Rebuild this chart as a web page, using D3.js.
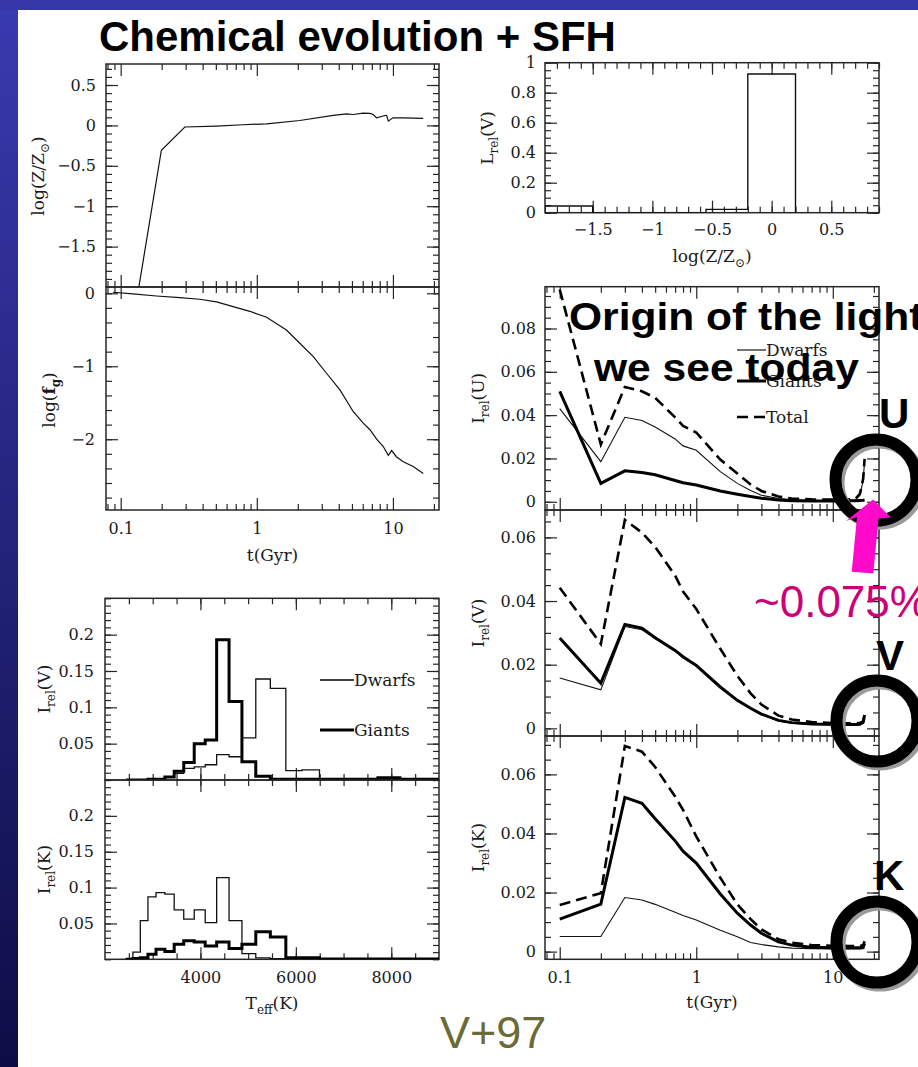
<!DOCTYPE html>
<html>
<head>
<meta charset="utf-8">
<title>Chemical evolution + SFH</title>
<script src="https://cdn.jsdelivr.net/npm/d3@7/dist/d3.min.js"></script>
<style>
  html, body { margin: 0; padding: 0; background: #fff; }
  svg { display: block; }
  .tick text { font-family: "DejaVu Serif", serif; font-size: 16px; fill: #1a1a1a; }
  .lbl { font-family: "DejaVu Serif", serif; font-size: 17px; fill: #1a1a1a; }
  .slide { font-family: "Liberation Sans", Arial, Helvetica, sans-serif; }
</style>
</head>
<body>
<svg id="fig" width="918" height="1067"></svg>
<script>
// ---------------- data ----------------
// age axis (Gyr), shared by every time panel
const ageTickMajor = [0.1, 1, 10];
const ageTickMinor = [0.08, 0.09, 0.2, 0.3, 0.4, 0.5, 0.6, 0.7, 0.8, 0.9, 2, 3, 4, 5, 6, 7, 8, 9, 20];
const ageTickLabels = ["0.1", "1", "10"];

// metallicity history log(Z/Zsun) vs t
const metalAge  = [0.136, 0.199, 0.296, 0.506, 0.79, 1.18, 2.07, 3.64, 4.57, 5.1, 6.05, 6.78, 7.16, 7.59, 8.73, 8.99, 9.25, 10.0, 11.9, 16.7];
const metalLogZ = [-2.0, -0.307, -0.02, -0.008, 0.008, 0.02, 0.061, 0.123, 0.143, 0.135, 0.152, 0.148, 0.135, 0.094, 0.123, 0.125, 0.053, 0.094, 0.094, 0.086];

// gas fraction log(f_g) vs t
const gasAge     = [0.0878, 0.123, 0.183, 0.272, 0.381, 0.506, 0.67, 0.889, 1.18, 1.65, 2.07, 2.6, 3.25, 4.08, 5.1, 6.05, 6.78, 7.59, 8.49, 9.25, 9.78, 10.6, 11.9, 14.1, 16.7];
const gasLogFrac = [0.014, -0.009, -0.037, -0.06, -0.082, -0.119, -0.183, -0.247, -0.329, -0.503, -0.685, -0.868, -1.096, -1.325, -1.62, -1.78, -1.87, -2.0, -2.1, -2.22, -2.156, -2.24, -2.31, -2.375, -2.47];

// V-band light by metallicity bin
const zBinEdges = [-1.9, -1.5, -0.55, -0.2, 0.2];
const zBinLight = [0.045, 0.0, 0.022, 0.925];

// Teff bins (K) and relative light of dwarfs / giants
const teffEdges = [2440, 2585, 2740, 2900, 3070, 3255, 3450, 3650, 3870, 4100, 4340, 4600, 4870, 5160, 5465, 5790, 6130, 6495, 6880, 7290, 7720, 8180, 8665, 9180];
const teffDwarfsV = [0, 0, 0, 0, 0.001, 0.004, 0.009, 0.016, 0.018, 0.021, 0.035, 0.032, 0.058, 0.139, 0.126, 0.013, 0.014, 0.002, 0.001, 0.001, 0.001, 0.001, 0.001];
const teffGiantsV = [0, 0, 0, 0.001, 0.001, 0.004, 0.012, 0.024, 0.050, 0.055, 0.193, 0.108, 0.025, 0.005, 0.001, 0.001, 0.001, 0.001, 0.001, 0.001, 0.003, 0.001, 0.001];
const teffDwarfsK = [0.001, 0.010, 0.054, 0.087, 0.093, 0.091, 0.069, 0.056, 0.069, 0.051, 0.114, 0.054, 0.008, 0.002, 0.001, 0.001, 0.001, 0.001, 0.001, 0.001, 0.001, 0.001, 0.001];
const teffGiantsK = [0, 0.001, 0.002, 0.007, 0.014, 0.011, 0.021, 0.026, 0.024, 0.0185, 0.024, 0.015, 0.021, 0.0385, 0.031, 0.002, 0.002, 0.0005, 0.0005, 0.0005, 0.0005, 0.0005, 0.0005];

// light seen today by formation time, per band
const ageGrid = [0.1, 0.2, 0.3, 0.4, 0.5, 0.7, 0.8, 1.0, 1.5, 2, 2.5, 3, 4, 5, 7, 10, 13, 14.6, 15.8, 16.7, 17.1];
const dwarfsU = [0.043, 0.0185, 0.039, 0.0375, 0.0345, 0.029, 0.0258, 0.0238, 0.0139, 0.0085, 0.0052, 0.0030, 0.0015, 0.0010, 0.0007, 0.0006, 0.0006, 0.0008, 0.0030, 0.0100, 0.0190];
const giantsU = [0.051, 0.0085, 0.0143, 0.0135, 0.0125, 0.0098, 0.0088, 0.0077, 0.0050, 0.0035, 0.0024, 0.0016, 0.0008, 0.0005, 0.0004, 0.0004, 0.0005, 0.0005, 0.0006, 0.0007, 0.0008];
const totalU  = [0.098, 0.0265, 0.053, 0.051, 0.048, 0.039, 0.035, 0.032, 0.0195, 0.013, 0.008, 0.0050, 0.0024, 0.0015, 0.0011, 0.0010, 0.0011, 0.0013, 0.0036, 0.0107, 0.0198];
const dwarfsV = [0.0158, 0.0121, 0.0320, 0.0310, 0.0282, 0.0243, 0.0222, 0.0195, 0.0128, 0.0086, 0.0062, 0.0044, 0.0023, 0.0016, 0.0012, 0.0011, 0.0011, 0.0011, 0.0012, 0.0016, 0.0030];
const giantsV = [0.0284, 0.0142, 0.0326, 0.0315, 0.0285, 0.0245, 0.0225, 0.0198, 0.0130, 0.0088, 0.0063, 0.0045, 0.0025, 0.0018, 0.0014, 0.0013, 0.0012, 0.0012, 0.0013, 0.0020, 0.0042];
const totalV  = [0.0442, 0.0265, 0.0655, 0.0615, 0.0570, 0.0480, 0.0430, 0.0375, 0.0250, 0.0165, 0.0110, 0.0075, 0.0040, 0.0028, 0.0020, 0.0017, 0.0016, 0.0016, 0.0017, 0.0022, 0.0042];
const dwarfsK = [0.0051, 0.0051, 0.0183, 0.0175, 0.0160, 0.0133, 0.0122, 0.0107, 0.0072, 0.0050, 0.0031, 0.0024, 0.0016, 0.0012, 0.0010, 0.0009, 0.0009, 0.0009, 0.0009, 0.0010, 0.0012];
const giantsK = [0.0110, 0.0161, 0.0522, 0.0502, 0.0450, 0.0375, 0.0340, 0.0300, 0.0195, 0.0130, 0.0090, 0.0062, 0.0033, 0.0022, 0.0015, 0.0013, 0.0013, 0.0013, 0.0013, 0.0016, 0.0028];
const totalK  = [0.0158, 0.0198, 0.0696, 0.0677, 0.0625, 0.0525, 0.0480, 0.0390, 0.0250, 0.0160, 0.0110, 0.0075, 0.0042, 0.0030, 0.0022, 0.0020, 0.0019, 0.0019, 0.0019, 0.0022, 0.0035];

// ---------------- drawing ----------------
const W = 918, H = 1067;
const INK = "#262626";
const MAJ = 12, MIN = 6;
const svg = d3.select("#fig");
const defs = svg.append("defs");

// slide background
const gL = defs.append("linearGradient").attr("id", "bandL").attr("x1", 0).attr("y1", 0).attr("x2", 0).attr("y2", 1);
gL.append("stop").attr("offset", "0%").attr("stop-color", "#3a3ab0");
gL.append("stop").attr("offset", "100%").attr("stop-color", "#0d0d46");
svg.append("rect").attr("width", W).attr("height", H).attr("fill", "#fff");
svg.append("rect").attr("x", 0).attr("y", 0).attr("width", 18).attr("height", H).attr("fill", "url(#bandL)");
svg.append("rect").attr("x", 0).attr("y", 0).attr("width", W).attr("height", 10).attr("fill", "#3737aa");

const plot = svg.append("g");
let clipN = 0;

function fmtNum(d) { return (d < 0 ? "\u2212" : "") + String(Math.abs(d)); }

// frame, inward ticks on all four sides, and optional labels
function axes(x, y, s) {
  const g = plot.append("g");
  const [x0, x1] = x.range();
  const [yb, yt] = y.range();
  const put = (axis, tr, vals, size) => {
    const a = g.append("g").attr("transform", tr)
      .call(axis.tickValues(vals).tickSize(-size).tickFormat(""));
    a.select(".domain").remove();
    a.selectAll("line").attr("stroke", INK).attr("stroke-width", 1.2);
  };
  [[d3.axisBottom, `translate(0,${yb})`, x, s.xMinor, s.xMajor],
   [d3.axisTop, `translate(0,${yt})`, x, s.xMinor, s.xMajor],
   [d3.axisLeft, `translate(${x0},0)`, y, s.yMinor, s.yMajor],
   [d3.axisRight, `translate(${x1},0)`, y, s.yMinor, s.yMajor]].forEach(([mk, tr, sc, mi, ma]) => {
    put(mk(sc), tr, mi, MIN);
    put(mk(sc), tr, ma, MAJ);
  });
  if (s.xLabels) {
    const a = g.append("g").attr("transform", `translate(0,${yb})`)
      .call(d3.axisBottom(x).tickValues(s.xLabels).tickSize(0).tickPadding(s.xPad || 13).tickFormat(s.xFmt || fmtNum));
    a.select(".domain").remove();
  }
  if (s.yLabels) {
    const a = g.append("g").attr("transform", `translate(${x0},0)`)
      .call(d3.axisLeft(y).tickValues(s.yLabels).tickSize(0).tickPadding(s.yPad || 9).tickFormat(s.yFmt || fmtNum));
    a.select(".domain").remove();
  }
  g.append("rect").attr("x", x0).attr("y", yt).attr("width", x1 - x0).attr("height", yb - yt)
    .attr("fill", "none").attr("stroke", INK).attr("stroke-width", 1.5);
  // clip for the marks of this panel
  const id = "clip" + (clipN++);
  defs.append("clipPath").attr("id", id).append("rect")
    .attr("x", x0).attr("y", yt).attr("width", x1 - x0).attr("height", yb - yt);
  return plot.append("g").attr("clip-path", `url(#${id})`);
}

// text with subscripts: parts = [{t, sub}]
function rich(g, parts, x, y, opts = {}) {
  const t = g.append("text").attr("class", "lbl")
    .attr("transform", `translate(${x},${y})` + (opts.rot ? " rotate(-90)" : ""))
    .attr("text-anchor", opts.anchor || "middle");
  let off = 0;
  parts.forEach(p => {
    const want = p.sub ? 5 : 0;
    const s = t.append("tspan").text(p.t).attr("dy", want - off);
    if (p.sub) s.attr("font-size", 12);
    if (p.bold) s.attr("font-weight", "bold");
    off = want;
  });
  return t;
}

const line = (x, y) => d3.line().x(d => x(d[0])).y(d => y(d[1]));
const pairs = (xs, ys) => xs.map((v, i) => [v, ys[i]]);
function steps(edges, vals) {
  const pts = [[edges[0], 0]];
  vals.forEach((v, i) => { pts.push([edges[i], v]); pts.push([edges[i + 1], v]); });
  pts.push([edges[vals.length], 0]);
  return pts;
}

const ageDomain = [0.078, 21.8];
const ageAxis = {
  xMinor: ageTickMinor, xMajor: ageTickMajor
};
const ageFmt = d => ageTickLabels[ageTickMajor.indexOf(d)];

// ---- left column: metallicity and gas fraction histories ----
const xL = d3.scaleLog().domain(ageDomain).range([106, 439]);
const yZ = d3.scaleLinear().domain([-2, 0.76]).range([287, 64]);
const yF = d3.scaleLinear().domain([-2.97, 0.086]).range([510, 287]);

let m = axes(xL, yZ, {...ageAxis,
  yMinor: d3.range(-19, 8).map(v => v / 10), yMajor: [-1.5, -1, -0.5, 0, 0.5],
  yLabels: [-1.5, -1, -0.5, 0, 0.5], yPad: 10});
m.append("path").attr("d", line(xL, yZ)(pairs(metalAge, metalLogZ)))
  .attr("fill", "none").attr("stroke", "#111").attr("stroke-width", 1.2);

m = axes(xL, yF, {...ageAxis,
  yMinor: d3.range(-14, 1).map(v => v / 5), yMajor: [-2, -1, 0],
  yLabels: [-2, -1, 0], yPad: 11,
  xLabels: ageTickMajor, xFmt: ageFmt, xPad: 13});
m.append("path").attr("d", line(xL, yF)(pairs(gasAge, gasLogFrac)))
  .attr("fill", "none").attr("stroke", "#111").attr("stroke-width", 1.2);

rich(plot, [{t: "log(Z/Z"}, {t: "\u2299", sub: true}, {t: ")"}], 44, 176, {rot: true});
rich(plot, [{t: "log("}, {t: "f", bold: true}, {t: "g", sub: true, bold: true}, {t: ")"}], 55, 400, {rot: true});
rich(plot, [{t: "t(Gyr)"}], 272.5, 561);

// ---- top right: V light by metallicity ----
const xZ = d3.scaleLinear().domain([-1.9, 0.9]).range([545, 879]);
const yZL = d3.scaleLinear().domain([0, 1]).range([212.7, 62.7]);
m = axes(xZ, yZL, {
  xMinor: d3.range(-18, 10).map(v => v / 10), xMajor: [-1.5, -1, -0.5, 0, 0.5],
  yMinor: d3.range(0, 21).map(v => v / 20), yMajor: [0, 0.2, 0.4, 0.6, 0.8, 1],
  xLabels: [-1.5, -1, -0.5, 0, 0.5], xPad: 11,
  yLabels: [0, 0.2, 0.4, 0.6, 0.8, 1], yPad: 9});
m.append("path").attr("d", line(xZ, yZL)(steps(zBinEdges, zBinLight)))
  .attr("fill", "none").attr("stroke", "#111").attr("stroke-width", 1.4);
rich(plot, [{t: "L"}, {t: "rel", sub: true}, {t: "(V)"}], 493, 138, {rot: true});
rich(plot, [{t: "log(Z/Z"}, {t: "\u2299", sub: true}, {t: ")"}], 712, 262);

// ---- right column: light by formation time in U, V, K ----
const xR = d3.scaleLog().domain(ageDomain).range([545, 879]);
const bands = [
  {name: "U", dom: [-0.0038, 0.0993], rng: [510, 286.7], d: dwarfsU, g: giantsU, t: totalU, labels: [0, 0.02, 0.04, 0.06, 0.08]},
  {name: "V", dom: [-0.0024, 0.0686], rng: [736, 510], d: dwarfsV, g: giantsV, t: totalV, labels: [0, 0.02, 0.04, 0.06]},
  {name: "K", dom: [-0.0026, 0.073], rng: [959.3, 736], d: dwarfsK, g: giantsK, t: totalK, labels: [0, 0.02, 0.04, 0.06]}
];
bands.forEach((b, i) => {
  const y = d3.scaleLinear().domain(b.dom).range(b.rng);
  const last = i === bands.length - 1;
  const mk = axes(xR, y, {...ageAxis,
    yMinor: d3.range(0, 20).map(v => v * 0.005).filter(v => v < b.dom[1]),
    yMajor: b.labels, yLabels: b.labels, yPad: 9,
    xLabels: last ? ageTickMajor : null, xFmt: ageFmt, xPad: 12});
  const ln = line(xR, y);
  mk.append("path").attr("d", ln(pairs(ageGrid, b.d)))
    .attr("fill", "none").attr("stroke", "#111").attr("stroke-width", 1.1);
  mk.append("path").attr("d", ln(pairs(ageGrid, b.g)))
    .attr("fill", "none").attr("stroke", "#000").attr("stroke-width", 3);
  mk.append("path").attr("d", ln(pairs(ageGrid, b.t)))
    .attr("fill", "none").attr("stroke", "#000").attr("stroke-width", 2.6).attr("stroke-dasharray", "11,6");
  rich(plot, [{t: "I"}, {t: "rel", sub: true}, {t: "(" + b.name + ")"}], 484, (b.rng[0] + b.rng[1]) / 2, {rot: true});
});
rich(plot, [{t: "t(Gyr)"}], 712, 1008);

// legend in the U panel
const lgU = plot.append("g");
[["Dwarfs", 350, 1.1, null], ["Giants", 381, 3, null], ["Total", 417, 2.6, "11,6"]].forEach(([txt, yy, w, dash]) => {
  lgU.append("line").attr("x1", 737).attr("x2", 766).attr("y1", yy).attr("y2", yy)
    .attr("stroke", "#000").attr("stroke-width", w).attr("stroke-dasharray", dash);
  lgU.append("text").attr("class", "lbl").attr("x", 766).attr("y", yy + 6).text(txt);
});

// ---- bottom left: Teff distributions ----
const xT = d3.scaleLinear().domain([2000, 9000]).range([105, 439]);
const teffPanels = [
  {name: "V", rng: [780, 598.3], d: teffDwarfsV, g: teffGiantsV},
  {name: "K", rng: [959.3, 780], d: teffDwarfsK, g: teffGiantsK}
];
teffPanels.forEach((p, i) => {
  const y = d3.scaleLinear().domain([0, 0.25]).range(p.rng);
  const last = i === teffPanels.length - 1;
  const mk = axes(xT, y, {
    xMinor: d3.range(2500, 9000, 500), xMajor: [4000, 6000, 8000],
    yMinor: d3.range(0, 26).map(v => v / 100), yMajor: [0.05, 0.1, 0.15, 0.2],
    yLabels: [0.05, 0.1, 0.15, 0.2], yPad: 11,
    xLabels: last ? [4000, 6000, 8000] : null, xFmt: d => String(d), xPad: 12});
  const ln = line(xT, y);
  mk.append("path").attr("d", ln(steps(teffEdges, p.d)))
    .attr("fill", "none").attr("stroke", "#111").attr("stroke-width", 1.3);
  mk.append("path").attr("d", ln(steps(teffEdges, p.g)))
    .attr("fill", "none").attr("stroke", "#000").attr("stroke-width", 3);
  rich(plot, [{t: "I"}, {t: "rel", sub: true}, {t: "(" + p.name + ")"}], 50, (p.rng[0] + p.rng[1]) / 2, {rot: true});
});
rich(plot, [{t: "T"}, {t: "eff", sub: true}, {t: "(K)"}], 272, 1009);
const lgT = plot.append("g");
[["Dwarfs", 680, 1.3], ["Giants", 730, 3]].forEach(([txt, yy, w]) => {
  lgT.append("line").attr("x1", 320).attr("x2", 354).attr("y1", yy).attr("y2", yy)
    .attr("stroke", "#000").attr("stroke-width", w);
  lgT.append("text").attr("class", "lbl").attr("x", 354).attr("y", yy + 6).text(txt);
});

// ---------------- slide annotations ----------------
const ann = svg.append("g");
// rings around the youngest populations
[[876, 480], [877, 721], [877, 942]].forEach(([cx, cy]) => {
  ann.append("ellipse").attr("cx", cx + 3).attr("cy", cy + 3).attr("rx", 40.5).attr("ry", 40.5)
    .attr("fill", "none").attr("stroke", "#9a9a9a").attr("stroke-width", 12);
  ann.append("ellipse").attr("cx", cx).attr("cy", cy).attr("rx", 40.5).attr("ry", 40.5)
    .attr("fill", "none").attr("stroke", "#000").attr("stroke-width", 12);
});
// magenta arrow
ann.append("path").attr("fill", "#ff0acb")
  .attr("d", "M851.7,571.7 L873.3,573.5 L878.5,518.5 L891,517.5 L873,499.5 L846,521 L857,517 Z");

const sl = (txt, x, y, size, fill, sx) => ann.append("text").attr("class", "slide")
  .attr("transform", `translate(${x},${y})` + (sx ? ` scale(${sx},1)` : ""))
  .attr("font-size", size).attr("font-weight", fill === "#000" ? "bold" : "normal")
  .attr("fill", fill).text(txt);

sl("Chemical evolution + SFH", 99, 51, 42, "#000");
sl("Origin of the light", 569, 329.5, 38, "#000", 1.12);
sl("we see today", 594, 380.5, 38, "#000", 1.12);
sl("U", 879, 428, 42, "#000");
sl("V", 876, 670, 42, "#000");
sl("K", 874, 890, 42, "#000");
sl("~0.075%", 754, 617, 44, "#cc0077");
sl("V+97", 440, 1048, 45, "#6b6b35");
</script>
</body>
</html>
